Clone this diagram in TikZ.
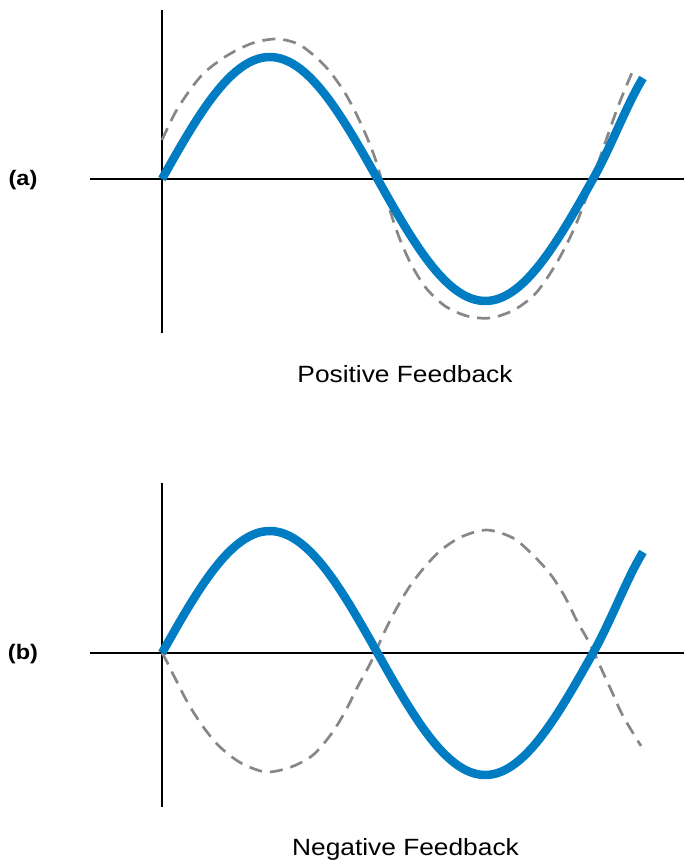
\documentclass[tikz,border=0pt]{standalone}
\usepackage{fontspec}
\setmainfont{Liberation Sans}[FakeStretch=1.12]
\definecolor{myblue}{HTML}{007CC2}
\definecolor{mygray}{HTML}{878787}
\usepackage{tikz}
\usetikzlibrary{calc}
\tikzset{
	axisline/.style={
			draw=black,
			line width=2.7pt
		},
	bluewave/.style={
			draw=myblue,
			line width=8.5pt,
			line cap=butt,
			line join=round
		},
	dashwave/.style={
			draw=mygray,
			line width=2.7pt,
			dash pattern=on 13pt off 8pt
		},
	panellabel/.style={
			font=\fontsize{21}{25}\selectfont\bfseries,
			inner sep=0pt
		},
	captionnode/.style={
			font=\fontsize{23.5}{28}\selectfont,
			inner sep=0pt,
			anchor=base
		}
}

\begin{document}
\begin{tikzpicture}[x=1pt, y=-1pt]
\useasboundingbox (0,0) rectangle (684,860);

% (a) positive feedback
\draw[axisline] (90,179) -- (684,179);
\draw[axisline] (162,10) -- (162,333);
\draw[dashwave] plot[smooth] coordinates {
	(162,140) (175,113) (190,90) (205,72) (228,55) (253,43) (277,39)
	(300,45) (325,66) (345,93) (362,126) (376,161) (388,204) (399,237)
	(411,264) (426,288) (445,306) (467,316) (490,318) (514,310) (536,293)
	(556,264) (574,229) (589,190) (604,146) (619,104) (634,68)};
\draw[bluewave] plot[domain=162:593, samples=100] (\x, {179-122*sin((\x-162)/431*360)})
	.. controls (611,147) and (627,104) .. (643,78);

\node[panellabel] (lbla) at (23,180) {(a)};
\node[captionnode] (capa) at (405,382) {Positive Feedback};

% (b) negative feedback
\draw[axisline] (90,653) -- (684,653);
\draw[axisline] (162,483) -- (162,807);
\draw[dashwave] plot[smooth] coordinates {
	(162,653) (166,660) (176,680) (189,705) (204,728) (220,747) (241,763)
	(266,772) (291,767) (313,755) (332,733) (346,710) (358,686) (371,662)
	(383,635) (394,613) (408,589) (423,569) (440,551) (461,537) (487,530)
	(513,538) (533,555) (551,575) (565,597) (577,621) (590,644) (601,668)
	(612,692) (623,716) (641,746)};
\draw[bluewave] plot[domain=162:593, samples=100] (\x, {653-122*sin((\x-162)/431*360)})
	.. controls (611,621) and (627,578) .. (643,552);

\node[panellabel] (lblb) at (23,654) {(b)};
\node[captionnode] (capb) at (405.5,855) {Negative Feedback};

\end{tikzpicture}
\end{document}
